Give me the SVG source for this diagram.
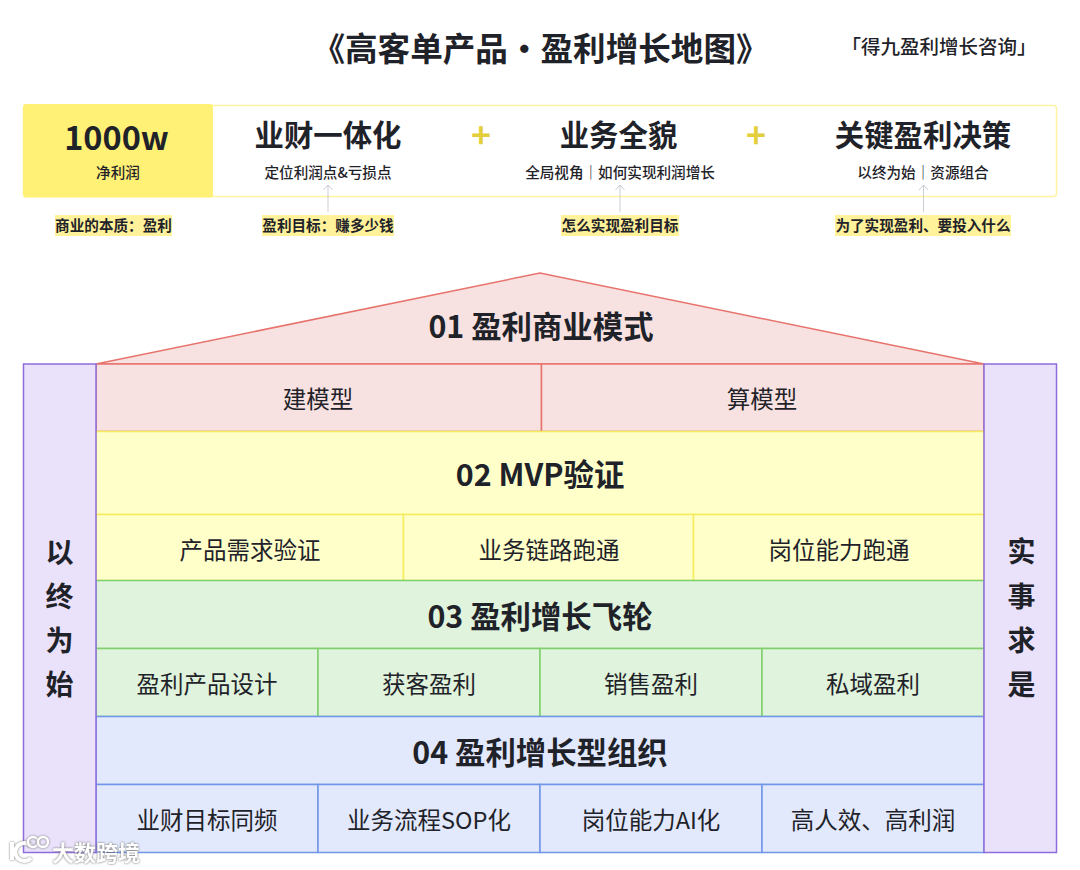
<svg xmlns="http://www.w3.org/2000/svg" width="1080" height="870" viewBox="0 0 1080 870">
<style>
text{font-family:"Noto Sans CJK SC","Noto Sans",sans-serif;fill:#1f2329;text-anchor:middle;dominant-baseline:central}
.b{font-weight:700}
.h{font-size:29.400px;font-weight:700}
.s{font-size:14.600px;font-weight:500}
.nt{font-size:14.600px;font-weight:700}
.c{font-size:23.500px;font-weight:400}
.t{font-size:30.400px;font-weight:700}
.side{font-size:28px;font-weight:700}
.red{fill:#f8e2e1;stroke:#e8736c;stroke-width:1.5}
.yel{fill:#feffc9;stroke:#f4ec5c;stroke-width:1.5}
.grn{fill:#e0f3dc;stroke:#7fcf6c;stroke-width:1.5}
.blu{fill:#e2e9fd;stroke:#7096e8;stroke-width:1.5}
.pur{fill:#eae2fb;stroke:#8e6cdc;stroke-width:1.5}
.hl{fill:#fff29a}
.ar{stroke:#c9cdd4;stroke-width:1;fill:none}
.wm{fill:none;stroke:#fff;stroke-width:4;filter:drop-shadow(0 0 1px #777)}
</style>
<defs><marker id="a" markerWidth="8" markerHeight="12" refX="6" refY="6" orient="auto" markerUnits="userSpaceOnUse"><path d="M1 1.500 L6 6 L1 10.500" fill="none" stroke="#c9cdd4"/></marker></defs>
<rect width="1080" height="870" fill="#fff"/>
<text id="title" x="540.500" y="46" font-size="32.600" class="b">《高客单产品・盈利增长地图》</text>
<text id="brand" x="939" y="45.500" font-size="19.500" style="font-weight:500">「得九盈利增长咨询」</text>

<g id="top-panel"><rect x="23.500" y="105.500" width="1033" height="91" rx="3" fill="#fff" stroke="#fdf3a0" stroke-width="1.500"/></g>
<g id="goal"><rect x="23" y="104" width="190" height="93.500" rx="3" fill="#fff176"/>
<text x="116.500" y="135" font-size="32.500" class="b">1000w</text><text x="118" y="171.500" class="s">净利润</text></g>
<g id="finance"><text x="328" y="133" class="h">业财一体化</text><text x="328" y="171.500" class="s">定位利润点&amp;亏损点</text></g>
<text id="plus1" x="481" y="133" font-size="34" class="b" style="fill:#e3cf3c">+</text>
<g id="biz"><text x="618.500" y="133" class="h">业务全貌</text><text x="620" y="171.500" class="s">全局视角｜如何实现利润增长</text></g>
<text id="plus2" x="756" y="133" font-size="34" class="b" style="fill:#e3cf3c">+</text>
<g id="decision"><text x="923" y="133" class="h">关键盈利决策</text><text x="923" y="171.500" class="s">以终为始｜资源组合</text></g>

<g id="notes">
<rect class="hl" x="55" y="215" width="117" height="21"/><text x="113.500" y="224.500" class="nt">商业的本质：盈利</text>
<rect class="hl" x="262" y="215" width="132" height="21"/><text x="328" y="224.500" class="nt">盈利目标：赚多少钱</text>
<rect class="hl" x="561" y="215" width="118" height="21"/><text x="620" y="224.500" class="nt">怎么实现盈利目标</text>
<rect class="hl" x="835" y="215" width="176" height="21"/><text x="923" y="224.500" class="nt">为了实现盈利、要投入什么</text>
</g>
<g id="connectors">
<path class="ar" d="M328 212V185" marker-end="url(#a)"/>
<path class="ar" d="M620 212V185" marker-end="url(#a)"/>
<path class="ar" d="M923.500 212V185" marker-end="url(#a)"/>
</g>

<g id="roof"><path class="red" d="M96 364 L540 273 L984 364Z"/><text class="t" x="541" y="324.500">01 盈利商业模式</text></g>
<g id="r1"><rect class="red" x="96" y="364" width="445.500" height="67.500"/><text class="c" x="318" y="397.500">建模型</text></g>
<g id="r2"><rect class="red" x="541.500" y="364" width="442.500" height="67.500"/><text class="c" x="762" y="397.500">算模型</text></g>

<g id="mvp"><rect class="yel" x="96" y="431.500" width="888" height="83"/><text class="t" x="540" y="472.500">02 MVP验证</text></g>
<g id="m1"><rect class="yel" x="96" y="514.500" width="307.500" height="66"/><text class="c" x="250" y="548.500">产品需求验证</text></g>
<g id="m2"><rect class="yel" x="403.500" y="514.500" width="290" height="66"/><text class="c" x="549" y="548.500">业务链路跑通</text></g>
<g id="m3"><rect class="yel" x="693.500" y="514.500" width="290.500" height="66"/><text class="c" x="839" y="548.500">岗位能力跑通</text></g>

<g id="fly"><rect class="grn" x="96" y="580.500" width="888" height="68"/><text class="t" x="540" y="614.500">03 盈利增长飞轮</text></g>
<g id="f1"><rect class="grn" x="96" y="648.500" width="222" height="68"/><text class="c" x="207" y="682.500">盈利产品设计</text></g>
<g id="f2"><rect class="grn" x="318" y="648.500" width="222" height="68"/><text class="c" x="429" y="682.500">获客盈利</text></g>
<g id="f3"><rect class="grn" x="540" y="648.500" width="222" height="68"/><text class="c" x="651" y="682.500">销售盈利</text></g>
<g id="f4"><rect class="grn" x="762" y="648.500" width="222" height="68"/><text class="c" x="873" y="682.500">私域盈利</text></g>

<g id="org"><rect class="blu" x="96" y="716.500" width="888" height="68"/><text class="t" x="540" y="750.500">04 盈利增长型组织</text></g>
<g id="o1"><rect class="blu" x="96" y="784.500" width="222" height="68"/><text class="c" x="207" y="818.500">业财目标同频</text></g>
<g id="o2"><rect class="blu" x="318" y="784.500" width="222" height="68"/><text class="c" x="429" y="818.500">业务流程SOP化</text></g>
<g id="o3"><rect class="blu" x="540" y="784.500" width="222" height="68"/><text class="c" x="651" y="818.500">岗位能力AI化</text></g>
<g id="o4"><rect class="blu" x="762" y="784.500" width="222" height="68"/><text class="c" x="873" y="818.500">高人效、高利润</text></g>

<g id="left"><rect class="pur" x="23.500" y="364" width="72.500" height="488.500"/>
<text class="side" x="59.500" y="551">以</text><text class="side" x="59.500" y="595">终</text><text class="side" x="59.500" y="639">为</text><text class="side" x="59.500" y="683">始</text></g>
<g id="right"><rect class="pur" x="984" y="364" width="72.500" height="488.500"/>
<text class="side" x="1021.500" y="550">实</text><text class="side" x="1021.500" y="595">事</text><text class="side" x="1021.500" y="639">求</text><text class="side" x="1021.500" y="683">是</text></g>

<g id="watermark">
<path class="wm" d="M12 842V860M31 846A9 9 0 1 0 31 858"/>
<circle class="wm" cx="33" cy="842" r="5" style="stroke-width:2.500"/><circle class="wm" cx="43" cy="842" r="5" style="stroke-width:2.500"/>
<text x="96" y="850.500" font-size="22" style="fill:#fff;font-weight:700;filter:drop-shadow(0 0 1px #666)">大数跨境</text>
</g>
</svg>
